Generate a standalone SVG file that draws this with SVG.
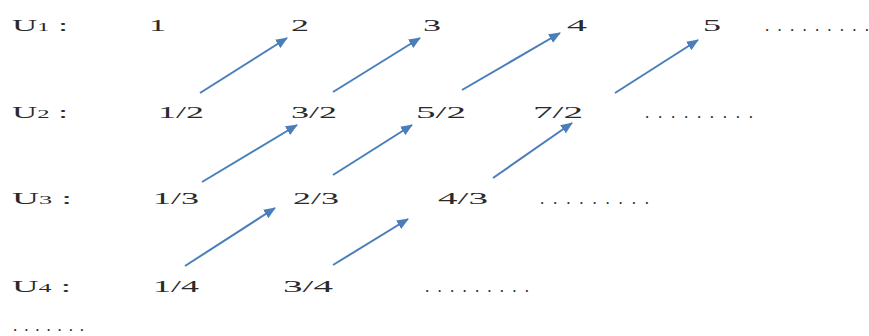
<svg xmlns="http://www.w3.org/2000/svg" width="869" height="336" viewBox="0 0 869 336">
<defs>
<marker id="ah" viewBox="0 0 12 10" refX="11" refY="5" markerWidth="12" markerHeight="10" markerUnits="userSpaceOnUse" orient="auto">
<path d="M0,0 L12,5 L0,10 z" fill="#4a7ebb"/>
</marker>
<style>
text{font-family:"Liberation Serif","Times New Roman",serif;font-size:17px;fill:#2a2a2a}
.sub{font-size:12px}
.arr line{stroke:#4a7ebb;stroke-width:2;marker-end:url(#ah)}
</style>
</defs>
<rect width="869" height="336" fill="#fff"/>
<g id="row1">
<text x="12" y="31" textLength="56" lengthAdjust="spacingAndGlyphs">U<tspan class="sub">1</tspan> :</text>
<text x="149" y="31" textLength="17" lengthAdjust="spacingAndGlyphs">1</text>
<text x="291" y="31" textLength="18" lengthAdjust="spacingAndGlyphs">2</text>
<text x="423" y="31" textLength="18" lengthAdjust="spacingAndGlyphs">3</text>
<text x="567" y="31" textLength="20" lengthAdjust="spacingAndGlyphs">4</text>
<text x="703" y="31" textLength="18" lengthAdjust="spacingAndGlyphs">5</text>
<text x="765" y="31" textLength="104" lengthAdjust="spacing">.........</text>
</g>
<g id="row2">
<text x="12" y="118" textLength="56" lengthAdjust="spacingAndGlyphs">U<tspan class="sub">2</tspan> :</text>
<text x="158" y="118" textLength="46" lengthAdjust="spacingAndGlyphs">1/2</text>
<text x="291" y="118" textLength="46" lengthAdjust="spacingAndGlyphs">3/2</text>
<text x="416" y="118" textLength="50" lengthAdjust="spacingAndGlyphs">5/2</text>
<text x="533" y="118" textLength="50" lengthAdjust="spacingAndGlyphs">7/2</text>
<text x="645" y="118" textLength="108" lengthAdjust="spacing">.........</text>
</g>
<g id="row3">
<text x="12" y="204" textLength="60" lengthAdjust="spacingAndGlyphs">U<tspan class="sub">3</tspan> :</text>
<text x="153" y="204" textLength="46" lengthAdjust="spacingAndGlyphs">1/3</text>
<text x="293" y="204" textLength="46" lengthAdjust="spacingAndGlyphs">2/3</text>
<text x="438" y="204" textLength="50" lengthAdjust="spacingAndGlyphs">4/3</text>
<text x="540" y="204" textLength="109" lengthAdjust="spacing">.........</text>
</g>
<g id="row4">
<text x="12" y="292" textLength="59" lengthAdjust="spacingAndGlyphs">U<tspan class="sub">4</tspan> :</text>
<text x="153" y="292" textLength="46" lengthAdjust="spacingAndGlyphs">1/4</text>
<text x="283" y="292" textLength="50" lengthAdjust="spacingAndGlyphs">3/4</text>
<text x="425" y="292" textLength="104" lengthAdjust="spacing">.........</text>
</g>
<g id="more">
<text x="13" y="331" textLength="71" lengthAdjust="spacing">.......</text>
</g>
<g id="connectors" class="arr">
<line x1="200" y1="93" x2="287" y2="38"/>
<line x1="333" y1="92" x2="420" y2="38"/>
<line x1="462" y1="90" x2="560" y2="33"/>
<line x1="615" y1="93" x2="698" y2="40"/>
<line x1="202" y1="182" x2="297" y2="125"/>
<line x1="333" y1="175" x2="412" y2="125"/>
<line x1="493" y1="178" x2="572" y2="123"/>
<line x1="185" y1="266" x2="275" y2="208"/>
<line x1="333" y1="265" x2="408" y2="219"/>
</g>
</svg>
